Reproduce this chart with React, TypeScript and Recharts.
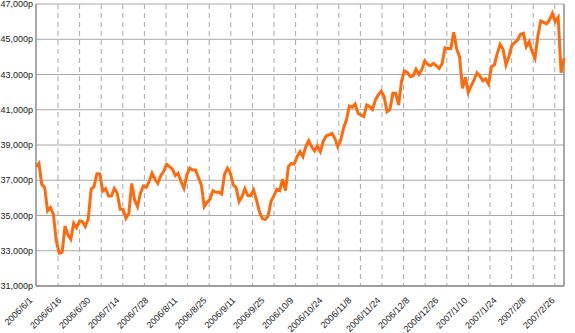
import React from 'react';
import { LineChart, Line, XAxis, YAxis, CartesianGrid, ReferenceLine } from 'recharts';

// x tick labels, one every 10 trading days
const TICK_LABELS = [
  '2006/6/1', '2006/6/16', '2006/6/30', '2006/7/14', '2006/7/28', '2006/8/11', '2006/8/25',
  '2006/9/11', '2006/9/25', '2006/10/9', '2006/10/24', '2006/11/8', '2006/11/24', '2006/12/8',
  '2006/12/26', '2007/1/10', '2007/1/24', '2007/2/8', '2007/2/26',
];

const Y_TICKS = [31000, 33000, 35000, 37000, 39000, 41000, 43000, 45000, 47000];

// daily close, 2006/6/1 .. 2007/3
const PRICES = [
  37770, 37960, 36770, 36580, 35260, 35450, 35070, 33560, 32860, 32910,
  34400, 33900, 33650, 34560, 34310, 34690, 34650, 34370, 34800, 36490,
  36640, 37370, 37360, 36390, 36520, 36110, 36110, 36540, 36260, 35350,
  35350, 34840, 35120, 36820, 35880, 35500, 36260, 36670, 36600, 36920,
  37400, 37070, 36830, 37260, 37490, 37900, 37770, 37640, 37260, 37400,
  36920, 36540, 37300, 37680, 37580, 37580, 37150, 36730, 35500, 35750,
  35940, 36410, 36320, 36320, 36220, 37340, 37680, 37400, 36730, 36580,
  35790, 36070, 36520, 36130, 36130, 36450, 35880, 35220, 34840, 34780,
  34970, 35790, 36110, 36490, 36410, 37070, 36410, 37770, 37960, 37920,
  38340, 38620, 38340, 38910, 39250, 38910, 38660, 38950, 38620, 39190,
  39510, 39570, 39660, 39380, 38910, 39250, 39950, 40420, 41210, 41140,
  41330, 40800, 40700, 40610, 41270, 41180, 41020, 41550, 41840, 42050,
  41740, 40890, 41020, 41930, 41930, 41270, 42630, 43200, 43120, 42880,
  42920, 43290, 43010, 43290, 43770, 43580, 43500, 43630, 43500, 43350,
  43630, 44520, 44480, 44480, 45390, 44450, 44010, 42220, 42840, 41990,
  42350, 42690, 43100, 42920, 42650, 42750, 42460, 43440, 43540, 44200,
  44710, 44430, 43540, 44010, 44640, 44810, 44960, 45280, 45340, 44580,
  44860, 44300, 43920, 45180, 46040, 45960, 45870, 46090, 46470, 46000,
  46240, 43100, 43920,
];

const data = PRICES.map((v, i) => ({ i, v }));
const LAST = PRICES.length - 1;

// dashed vertical guides (Excel-style minor divisions)
const vGrid = Array.from({ length: 24 }, (_, k) => 58 + k * 21.6);

const DateTick = (props: any) => {
  const { x, payload } = props;
  const label = TICK_LABELS[Math.round(payload.value / 10)];
  const ax = x - 3;
  const ay = 301;
  return (
    <text
      x={ax}
      y={ay}
      textAnchor="end"
      fontSize={9}
      fill="#222"
      fontFamily="'Liberation Sans', Arial, sans-serif"
      transform={`rotate(-45 ${ax} ${ay})`}
    >
      {label}
    </text>
  );
};

export default function App() {
  return (
    <div style={{ position: 'absolute', left: 0, top: 0, background: '#fff' }}>
      <LineChart
        width={575}
        height={333}
        data={data}
        margin={{ top: 4, right: 11, bottom: 0, left: 0 }}
      >
        <CartesianGrid vertical={false} stroke="#a8a8a8" strokeWidth={1} />
        <CartesianGrid horizontal={false} verticalPoints={vGrid} stroke="#a8a8a8" strokeDasharray="5 4" />
        <XAxis
          dataKey="i"
          type="number"
          domain={[0, LAST]}
          ticks={TICK_LABELS.map((_, k) => k * 10)}
          tick={<DateTick />}
          tickLine={false}
          axisLine={{ stroke: '#8c8c8c', strokeWidth: 1.5 }}
          height={47}
          interval={0}
        />
        <YAxis
          domain={[31000, 47000]}
          ticks={Y_TICKS}
          width={36}
          tickLine={false}
          tickSize={0}
          tickMargin={3}
          axisLine={{ stroke: '#8c8c8c', strokeWidth: 1.5 }}
          tick={{ fontSize: 9, fill: '#222', fontFamily: "'Liberation Sans', Arial, sans-serif" }}
          tickFormatter={(v: number) => v.toLocaleString('en-US') + 'p'}
          interval={0}
        />
        <ReferenceLine x={LAST} stroke="#8c8c8c" strokeWidth={1.5} />
        <Line
          type="linear"
          dataKey="v"
          stroke="#ff6a0d"
          strokeWidth={3}
          dot={false}
          isAnimationActive={false}
        />
      </LineChart>
    </div>
  );
}
